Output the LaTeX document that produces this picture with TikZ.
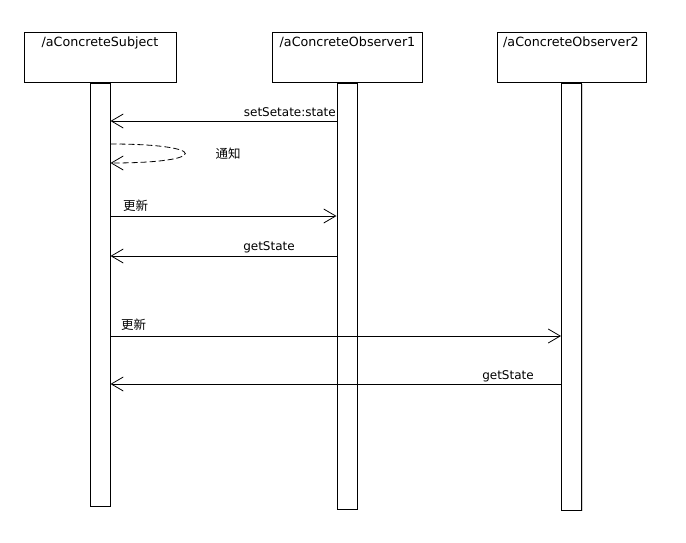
\documentclass[tikz,border=0pt]{standalone}
\usepackage{fontspec}
\setmainfont{DejaVu Sans}
\newfontfamily\cjk{Noto Sans CJK SC}
\usepackage{tikz}
\usetikzlibrary{positioning}
\usetikzlibrary{arrows.meta}
\usetikzlibrary{shadows}

\tikzset{
	objbox/.style={draw, fill=white, line width=1pt, minimum width=152pt, minimum height=50pt,
		drop shadow={shadow xshift=1.2pt, shadow yshift=-1.2pt, fill=black!35}},
	lifebar/.style={draw, fill=white, line width=1pt, minimum width=20pt, inner sep=0pt,
		drop shadow={shadow xshift=1.2pt, shadow yshift=-1.2pt, fill=black!35}},
	msg/.style={line width=0.8pt, -{Straight Barb[length=12pt, width=14pt, line width=0.8pt]}},
	selfmsg/.style={msg, dash pattern=on 6pt off 3pt},
	msglabel/.style={inner sep=0pt, font=\fontsize{12}{14}\selectfont},
	objlabel/.style={inner sep=0pt, font=\fontsize{12.7}{14}\selectfont},
	cjklabel/.style={inner sep=0pt, font=\fontsize{12.5}{14}\selectfont\cjk}
}

\begin{document}
\begin{tikzpicture}[x=1pt, y=-1pt]
\useasboundingbox (0,0) rectangle (686,542);
% % Objects
 \node[objbox] (subj) at (100,57) {};
 \node[objbox, minimum width=150pt] (obs1) at (347,57) {};
 \node[objbox, minimum width=149pt] (obs2) at (571.5,57) {};
 \node[objlabel, anchor=base] (subjname) at (100,46) {/aConcreteSubject};
 \node[objlabel, anchor=base] (obs1name) at (347.5,46) {/aConcreteObserver1};
 \node[objlabel, anchor=base] (obs2name) at (571,46) {/aConcreteObserver2};
% % Lifelines
 \node[lifebar, minimum height=423pt, below=0pt of subj] (subjbar) {};
 \node[lifebar, minimum height=426pt, below=0pt of obs1] (obs1bar) {};
 \node[lifebar, minimum height=427pt, below=0pt of obs2] (obs2bar) {};
% % Messages
 \draw[msg] (obs1bar.west |- 0,121) -- (subjbar.east |- 0,121);
 \node[msglabel, anchor=base east] (setlbl) at (336,116) {setSetate:state};
 % notify itself
 \coordinate (notifyout) at (subjbar.east |- 0,144);
 \coordinate (notifyin) at (subjbar.east |- 0,163);
 \draw[selfmsg] (notifyout) .. controls (210,144) and (210,163) .. (notifyin);
 \node[cjklabel] (notifylbl) at (228,154) {通知};
 \draw[msg] (subjbar.east |- 0,216) -- (obs1bar.west |- 0,216);
 \node[cjklabel] (upd1lbl) at (135.5,205.5) {更新};
 \draw[msg] (obs1bar.west |- 0,256) -- (subjbar.east |- 0,256);
 \node[msglabel, anchor=base] (get1lbl) at (269,250) {getState};
 \draw[msg] (subjbar.east |- 0,336) -- (obs2bar.west |- 0,336);
 \node[cjklabel] (upd2lbl) at (133.5,324.5) {更新};
 \draw[msg] (obs2bar.west |- 0,384) -- (subjbar.east |- 0,384);
 \node[msglabel, anchor=base] (get2lbl) at (508,379) {getState};
\end{tikzpicture}
\end{document}
